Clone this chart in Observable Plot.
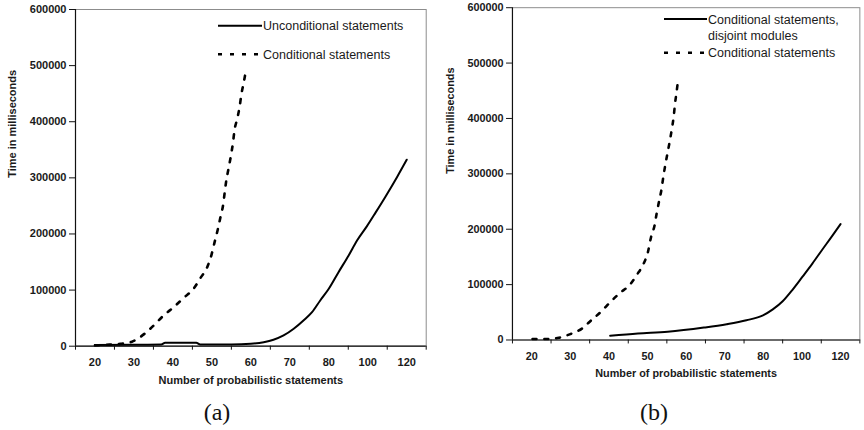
<!DOCTYPE html>
<html>
<head>
<meta charset="utf-8">
<script src="https://cdn.jsdelivr.net/npm/d3@7"></script>
<script src="https://cdn.jsdelivr.net/npm/@observablehq/plot@0.6"></script>
<style>
  html, body { margin: 0; padding: 0; background: #fff; }
  body { width: 864px; height: 430px; overflow: hidden; position: relative; font-family: "Liberation Sans", Arial, sans-serif; }
  .panel { position: absolute; top: 0; }
  .cap { position: absolute; font-family: "Liberation Serif", "DejaVu Serif", serif; font-size: 24px; color: #111; transform: translate(-50%, -50%); white-space: nowrap; }
  #legend { position: absolute; left: 0; top: 0; pointer-events: none; }
</style>
</head>
<body>
<div id="pa" class="panel" style="left:0px"></div>
<div id="pb" class="panel" style="left:438px"></div>
<div class="cap" style="left:217px; top:412px">(a)</div>
<div class="cap" style="left:654px; top:412px">(b)</div>
<svg id="legend" width="864" height="430"></svg>
<script>
// ---- data ----
const xLabels = [20, 30, 40, 50, 60, 70, 80, 100, 120];
const yTicks = [0, 100000, 200000, 300000, 400000, 500000, 600000];
const xTitle = "Number of probabilistic statements";
const yTitle = "Time in milliseconds";

// panel (a)
const aCondN = [20, 23, 26.5, 29.5, 32.9, 35.5, 37.6, 40.2, 42.8, 45.3, 47.1, 48.8, 49.9, 50.7, 51.5, 52.2, 52.9, 53.3, 53.7, 54.3, 54.9, 55.4, 55.8, 56.5, 57.1, 57.6, 58.2, 58.8];
const aCondV = [1500, 2500, 4300, 8000, 23200, 39900, 54700, 69500, 86300, 102300, 121900, 140800, 162900, 185400, 207500, 229900, 252600, 274500, 295400, 317300, 339900, 361900, 384500, 405300, 426000, 449900, 470600, 494500];
const aUncN = [20, 30, 37, 38, 46, 47, 55, 60, 63.3, 65.8, 68.4, 71, 73.5, 75.7, 77.8, 80, 85, 90.2, 94.5, 99.6, 104, 109, 115, 120];
const aUncV = [2000, 2500, 3000, 6000, 6000, 3000, 3000, 4300, 7100, 11400, 19100, 31000, 45800, 60600, 81500, 102300, 131900, 161700, 188400, 214000, 238000, 266000, 301200, 332300];

// panel (b)
const bCondN = [20.2, 23.6, 27, 30, 33, 35.5, 38.1, 40.3, 42.8, 45.4, 47.2, 49, 50.1, 50.9, 51.8, 52.4, 53, 53.6, 54.1, 54.6, 55.2, 55.8, 56.3, 56.8, 57.1, 57.5, 57.9];
const bCondV = [1800, 1800, 4100, 10700, 20600, 36100, 52100, 68100, 84700, 99600, 117400, 138100, 158900, 185600, 206400, 230100, 251000, 271500, 295400, 316000, 338600, 360500, 381300, 405000, 425800, 446600, 469000];
const bDisN = [40.3, 47.5, 55.2, 64.6, 70.5, 75.6, 79.9, 84.9, 90, 95.1, 100.3, 105.4, 110.5, 115.6, 120];
const bDisV = [7700, 11700, 14800, 22400, 28500, 35600, 44500, 55200, 69900, 90700, 114400, 138000, 163000, 187500, 209300];

// category-axis position of a statement count (Excel category axis: 20..80 by 10, then 100, 120)
const catPos = d3.scaleLinear().domain([15, 80, 100, 130]).range([0, 6.5, 7.5, 9]);
const edges = d3.range(0, xLabels.length + 1);

function series(ns, vs) { return ns.map((n, i) => ({n, v: vs[i]})); }

function panel({solid, dashed, mt, mb, mr}) {
  return Plot.plot({
    width: 432, height: 395,
    marginLeft: 75, marginTop: mt, marginBottom: mb, marginRight: mr,
    x: {domain: [0, xLabels.length]},
    y: {domain: [0, 600000]},
    style: {fontFamily: "'Liberation Sans', Arial, sans-serif", fontSize: "11px", color: "#1a1a1a", background: "white", overflow: "visible"},
    marks: [
      Plot.frame({stroke: "#8c8c8c"}),
      Plot.axisY({ticks: yTicks, tickFormat: d3.format("d"), tickSize: 6, tickPadding: 3, fontWeight: "bold", label: null, stroke: "#111"}),
      Plot.axisX({ticks: edges, tickSize: 4, tickFormat: () => "", label: null, stroke: "#111"}),
      Plot.axisX({ticks: xLabels.map(catPos), tickSize: 0, tickPadding: 12, fontWeight: "bold", label: null,
                  tickFormat: d => String(xLabels[Math.round(d - 0.5)])}),
      Plot.ruleX([0], {stroke: "#111", strokeWidth: 1.2}),
      Plot.ruleY([0], {stroke: "#111", strokeWidth: 1.2}),
      Plot.line(dashed, {x: d => catPos(d.n), y: "v", stroke: "#000", strokeWidth: 2.6, strokeDasharray: "4,8", curve: "monotone-x"}),
      Plot.line(solid, {x: d => catPos(d.n), y: "v", stroke: "#000", strokeWidth: 2, curve: "monotone-x"}),
      Plot.text([xTitle], {frameAnchor: "bottom", dy: 38, fontWeight: "bold", fontSize: 11, fill: "#1a1a1a"}),
      Plot.text([yTitle], {frameAnchor: "left", dx: -63, rotate: -90, fontWeight: "bold", fontSize: 11, fill: "#1a1a1a"})
    ]
  });
}

document.getElementById("pa").append(panel({
  solid: series(aUncN, aUncV), dashed: series(aCondN, aCondV), mt: 9, mb: 49.3, mr: 6.3
}));
document.getElementById("pb").append(panel({
  solid: series(bDisN, bDisV), dashed: series(bCondN, bCondV), mt: 7.3, mb: 50.7, mr: 4.7
}));

// ---- legends ----
const legendItems = [
  {x1: 218, x2: 262, y: 25.7, dash: null, tx: 263, lines: ["Unconditional statements"]},
  {x1: 218, x2: 258, y: 54.3, dash: "4,8", tx: 263, lines: ["Conditional statements"]},
  {x1: 664, x2: 707, y: 19, dash: null, tx: 708, lines: ["Conditional statements,", "disjoint modules"]},
  {x1: 664, x2: 705, y: 52.7, dash: "4,8", tx: 708, lines: ["Conditional statements"]}
];
const lg = d3.select("#legend");
for (const it of legendItems) {
  lg.append("line").attr("x1", it.x1).attr("x2", it.x2).attr("y1", it.y).attr("y2", it.y)
    .attr("stroke", "#000").attr("stroke-width", it.dash ? 2.6 : 2)
    .attr("stroke-dasharray", it.dash);
  it.lines.forEach((t, i) => {
    lg.append("text").attr("x", it.tx).attr("y", it.y + i * 16).attr("dy", "0.36em")
      .attr("font-family", "'Liberation Sans', Arial, sans-serif").attr("font-size", 12.5)
      .attr("fill", "#1a1a1a").text(t);
  });
}
</script>
</body>
</html>
